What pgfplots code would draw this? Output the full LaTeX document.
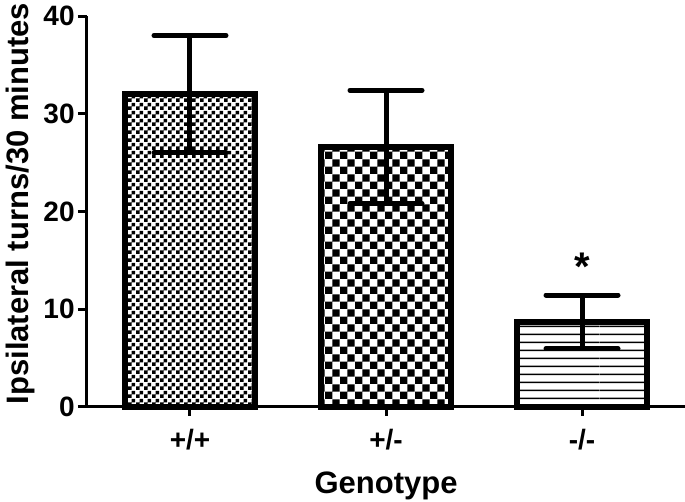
\documentclass[border=0pt]{standalone}
\usepackage{pgfplots}
\pgfplotsset{compat=1.18}
\usepackage{fontspec}
\setmainfont{Liberation Sans}
\usetikzlibrary{patterns}

% bar fills
\pgfdeclarepatternformonly{finechecker}{\pgfpointorigin}{\pgfqpoint{4pt}{4pt}}{\pgfqpoint{4pt}{4pt}}{
  \pgfpathrectangle{\pgfpointorigin}{\pgfqpoint{2pt}{2pt}}
  \pgfpathrectangle{\pgfqpoint{2pt}{2pt}}{\pgfqpoint{2pt}{2pt}}
  \pgfusepath{fill}}
\pgfdeclarepatternformonly{coarsechecker}{\pgfpointorigin}{\pgfqpoint{7.4pt}{7.4pt}}{\pgfqpoint{7.4pt}{7.4pt}}{
  \pgfpathrectangle{\pgfpointorigin}{\pgfqpoint{3.7pt}{3.7pt}}
  \pgfpathrectangle{\pgfqpoint{3.7pt}{3.7pt}}{\pgfqpoint{3.7pt}{3.7pt}}
  \pgfusepath{fill}}
\pgfdeclarepatternformonly{hlines}{\pgfpointorigin}{\pgfqpoint{300pt}{3.85pt}}{\pgfqpoint{300pt}{3.85pt}}{
  \pgfpathrectangle{\pgfqpoint{0pt}{1.5pt}}{\pgfqpoint{300pt}{0.75pt}}
  \pgfusepath{fill}}

\pgfplotsset{
  errstyle/.style={
    error bars/.cd, y dir=both, y explicit,
    error mark=|,
    error bar style={line width=2.5pt, black},
    error mark options={line width=2.5pt, mark size=18pt, black, line cap=round}}
}

\begin{document}
\begin{tikzpicture}
\begin{axis}[
  scale only axis,
  width=299pt, height=195.5pt,
  xmin=-0.5255, xmax=2.5255,
  ymin=0, ymax=40,
  axis lines=left,
  axis line style={line width=1.5pt, -},
  xtick={0,1,2},
  xticklabels={+/+, +/-, -/-},
  ytick={0,10,20,30,40},
  tick align=outside,
  major tick length=4.5pt,
  tick style={line width=1.5pt, black},
  /pgf/number format/assume math mode=true,
  tick label style={font=\fontsize{14}{16}\selectfont\bfseries},
  yticklabel style={inner sep=0pt, xshift=-1.5pt},
  xticklabel style={yshift=-3pt},
  xlabel={Genotype},
  ylabel={Ipsilateral turns/30 minutes},
  label style={font=\fontsize{15.5}{18}\selectfont\bfseries},
  xlabel style={at={(axis description cs:0.5,0)}, anchor=center, yshift=-39.5pt},
  ylabel style={at={(axis description cs:0,0.52)}, anchor=center, yshift=33.5pt},
  ybar,
  bar width=65pt,
  clip=false,
]
\addplot[bar shift=0pt, draw=black, line width=3pt, pattern=finechecker, errstyle]
  coordinates {(0,32.0) +- (0,6.0)};
\addplot[bar shift=0pt, draw=black, line width=3pt, pattern=coarsechecker, errstyle]
  coordinates {(1,26.6) +- (0,5.8)};
\addplot[bar shift=0pt, draw=black, line width=3pt, pattern=hlines, errstyle]
  coordinates {(2,8.7) +- (0,2.75)};
\node[font=\fontsize{20}{20}\selectfont\bfseries] at (axis cs:2,14.3) {*};
\end{axis}
\pgfresetboundingbox
\path ([xshift=-43.5pt,yshift=-47.5pt]current axis.south west) rectangle ([yshift=8pt]current axis.north east);
\end{tikzpicture}
\end{document}
